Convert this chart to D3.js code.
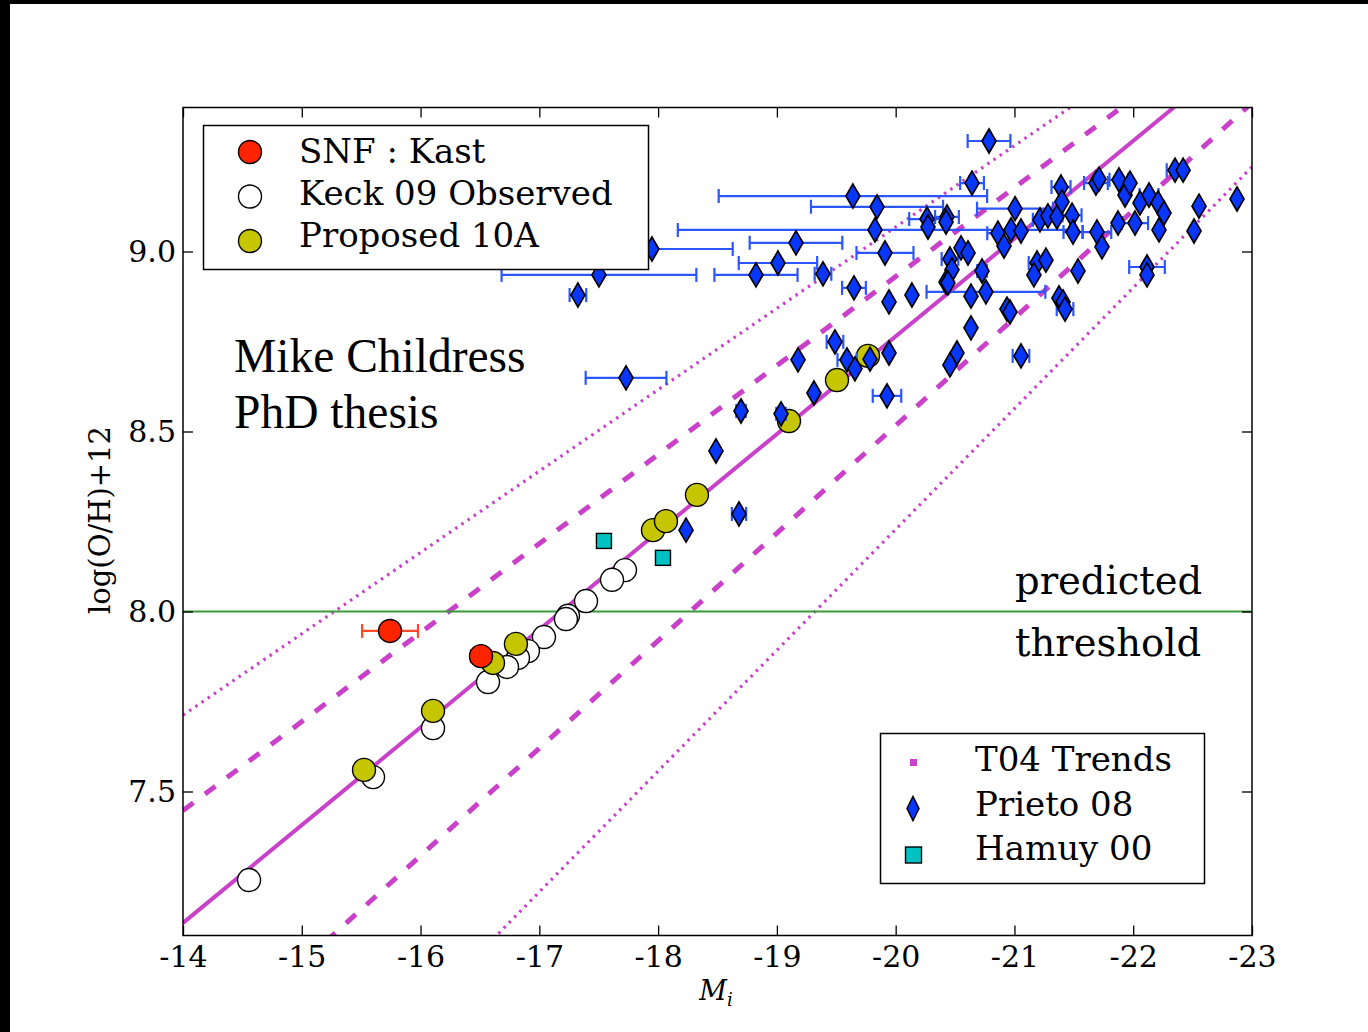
<!DOCTYPE html>
<html>
<head>
<meta charset="utf-8">
<script src="https://cdnjs.cloudflare.com/ajax/libs/d3/7.8.5/d3.min.js"></script>
<style>
  body { margin: 0; background: #fff; }
  svg text { font-family: "DejaVu Serif", serif; fill: #000; }
</style>
</head>
<body>
<div class="chart"></div>
<script>
// ---- data ----
var xTicks = [-14, -15, -16, -17, -18, -19, -20, -21, -22, -23];
var yTicks = [7.5, 8.0, 8.5, 9.0];

// T04 trend lines, value of log(O/H)+12 at M=-14 and at M=-23
var trendNames = ["+2sig", "+1sig", "T04", "-1sig", "-2sig"];
var trendAtFaint = [7.712, 7.447, 7.135, 6.724, 6.214];
var trendAtBright = [9.746, 9.672, 9.579, 9.413, 9.235];

var snfM = [-15.743, -16.509];
var snfOH = [7.946, 7.876];
var snfErr = [0.235, 0.085];

var keckM = [-17.721, -17.612, -17.393, -17.241, -17.224, -17.039, -16.904, -16.820, -16.728, -16.568, -16.105, -15.600, -14.556];
var keckOH = [8.115, 8.088, 8.029, 7.988, 7.979, 7.929, 7.890, 7.871, 7.846, 7.804, 7.676, 7.540, 7.254];

var p10aM = [-15.524, -16.105, -16.610, -16.803, -17.957, -18.066, -18.327, -19.102, -19.506, -19.767];
var p10aOH = [7.560, 7.724, 7.857, 7.910, 8.226, 8.251, 8.324, 8.529, 8.643, 8.710];

var hamuyM = [-17.544, -18.041];
var hamuyOH = [8.196, 8.149];

var prietoM = [-19.640, -19.843, -19.826, -19.161, -17.948, -19.009, -17.502, -18.824, -19.388, -17.325,
  -19.649, -19.944, -19.910, -17.730, -20.786, -20.643, -21.005, -20.264, -20.272, -20.432,
  -20.424, -20.861, -20.912, -20.971, -21.055, -21.215, -21.282, -21.358, -21.392, -21.400,
  -21.485, -21.493, -21.695, -21.737, -21.686, -21.712, -21.880, -21.931, -21.973, -21.872,
  -22.015, -22.057, -22.133, -22.209, -22.259, -22.217, -22.352, -22.420, -22.554, -22.874,
  -22.512, -20.550, -20.609, -20.457, -20.474, -20.424, -20.727, -20.760, -20.634, -20.634,
  -20.516, -20.457, -21.055, -21.190, -21.265, -21.164, -21.535, -22.116, -22.116, -21.375,
  -21.409, -21.426, -20.937, -20.962, -20.137, -20.440, -19.489, -19.590, -19.657, -19.784,
  -19.944, -19.178, -19.312, -19.927, -18.698, -19.035, -18.487, -18.681, -18.235];
var prietoOH = [9.154, 9.124, 9.060, 9.024, 9.007, 8.968, 8.935, 8.935, 8.938, 8.879,
  8.899, 8.860, 8.996, 8.649, 9.307, 9.190, 9.119, 9.090, 9.068, 9.096,
  9.082, 9.051, 9.015, 9.060, 9.057, 9.088, 9.099, 9.096, 9.179, 9.138,
  9.101, 9.054, 9.054, 9.013, 9.190, 9.201, 9.199, 9.157, 9.190, 9.079,
  9.079, 9.135, 9.157, 9.135, 9.107, 9.060, 9.226, 9.226, 9.126, 9.146,
  9.057, 9.010, 8.996, 8.979, 8.949, 8.915, 8.946, 8.888, 8.876, 8.788,
  8.718, 8.685, 8.710, 8.968, 8.976, 8.935, 8.946, 8.957, 8.935, 8.871,
  8.860, 8.840, 8.840, 8.832, 8.879, 8.913, 8.749, 8.699, 8.674, 8.701,
  8.718, 8.699, 8.607, 8.599, 8.557, 8.549, 8.446, 8.271, 8.226];
var prietoErr = [1.13, 0.556, 1.66, 0.39, 0.68, 0.33, 0.82, 0.35, 0.07, 0.07,
  0.10, 0, 0.24, 0.34, 0.18, 0.10, 0.32, 0.15, 0, 0.10,
  0, 0.09, 0, 0, 0, 0.06, 0, 0, 0.08, 0,
  0.08, 0.08, 0.12, 0, 0.10, 0, 0.08, 0, 0, 0,
  0.11, 0, 0.08, 0, 0, 0, 0.07, 0, 0, 0,
  0, 0, 0, 0.07, 0, 0, 0.04, 0.50, 0, 0,
  0, 0, 0.07, 0.07, 0, 0, 0, 0.15, 0, 0,
  0, 0.07, 0, 0, 0, 0, 0.07, 0.08, 0, 0,
  0, 0, 0, 0.12, 0.04, 0.04, 0, 0.06, 0];

var legendTop = ["SNF : Kast", "Keck 09 Observed", "Proposed 10A"];
var legendBottom = ["T04 Trends", "Prieto 08", "Hamuy 00"];

// ---- layout ----
var svgWidth = 1368, svgHeight = 1032;
var plotLeft = 183, plotRight = 1252, plotTop = 107.5, plotBottom = 935.5;

var svg = d3.select(".chart").append("svg")
  .attr("width", svgWidth)
  .attr("height", svgHeight);

svg.append("rect").attr("width", svgWidth).attr("height", svgHeight).attr("fill", "#fff");
// black strips at the image edge
svg.append("rect").attr("x", 0).attr("y", 0).attr("width", svgWidth).attr("height", 4).attr("fill", "#000");
svg.append("rect").attr("x", 0).attr("y", 0).attr("width", 10).attr("height", svgHeight).attr("fill", "#000");

var xScale = d3.scaleLinear().domain([-14, -23]).range([plotLeft, plotRight]);
var yScale = d3.scaleLinear().domain([7.1, 9.4]).range([plotBottom, plotTop]);

svg.append("clipPath").attr("id", "plotclip")
  .append("rect")
  .attr("x", plotLeft).attr("y", plotTop)
  .attr("width", plotRight - plotLeft).attr("height", plotBottom - plotTop);

var plot = svg.append("g").attr("clip-path", "url(#plotclip)");

// trend lines
var magenta = "#c940c9";
trendNames.forEach(function(name, i) {
  var path = plot.append("line")
    .attr("x1", xScale(-14)).attr("y1", yScale(trendAtFaint[i]))
    .attr("x2", xScale(-23)).attr("y2", yScale(trendAtBright[i]))
    .attr("stroke", magenta);
  if (name === "T04") {
    path.attr("stroke-width", 4);
  } else if (name.indexOf("1sig") >= 0) {
    path.attr("stroke-width", 5).attr("stroke-dasharray", "13,14.5");
  } else {
    path.attr("stroke-width", 3.2).attr("stroke-dasharray", "2.5,5");
  }
});

// predicted threshold
plot.append("line")
  .attr("x1", plotLeft).attr("x2", plotRight)
  .attr("y1", yScale(8.0)).attr("y2", yScale(8.0))
  .attr("stroke", "#3a9a3a").attr("stroke-width", 1.8);

// Keck 09 observed
plot.selectAll("circle.keck")
  .data(keckM)
  .enter()
  .append("circle")
  .attr("class", "keck")
  .attr("cx", d => xScale(d))
  .attr("cy", (d, i) => yScale(keckOH[i]))
  .attr("r", 11.5)
  .attr("fill", "#fff")
  .attr("stroke", "#000")
  .attr("stroke-width", 1.4);

// Proposed 10A
plot.selectAll("circle.p10a")
  .data(p10aM)
  .enter()
  .append("circle")
  .attr("class", "p10a")
  .attr("cx", d => xScale(d))
  .attr("cy", (d, i) => yScale(p10aOH[i]))
  .attr("r", 11.5)
  .attr("fill", "#c5c500")
  .attr("stroke", "#000")
  .attr("stroke-width", 1.4);

// horizontal error bar with end caps
function errBar(g, m, v, e, color, width) {
  var x0 = xScale(m + e), x1 = xScale(m - e), yy = yScale(v);
  g.append("line").attr("x1", x0).attr("x2", x1).attr("y1", yy).attr("y2", yy)
    .attr("stroke", color).attr("stroke-width", width);
  [x0, x1].forEach(function(xx) {
    g.append("line").attr("x1", xx).attr("x2", xx).attr("y1", yy - 7).attr("y2", yy + 7)
      .attr("stroke", color).attr("stroke-width", width);
  });
}

// SNF : Kast
snfM.forEach(function(m, i) { errBar(plot, m, snfOH[i], snfErr[i], "#ff4a26", 2.2); });
plot.selectAll("circle.snf")
  .data(snfM)
  .enter()
  .append("circle")
  .attr("class", "snf")
  .attr("cx", d => xScale(d))
  .attr("cy", (d, i) => yScale(snfOH[i]))
  .attr("r", 11.5)
  .attr("fill", "#ff2400")
  .attr("stroke", "#000")
  .attr("stroke-width", 1.4);

// Prieto 08
prietoM.forEach(function(m, i) {
  if (prietoErr[i] > 0) errBar(plot, m, prietoOH[i], prietoErr[i], "#2a55ff", 2.2);
});
var diamond = "M0,-12L7,0L0,12L-7,0Z";
plot.selectAll("path.prieto")
  .data(prietoM)
  .enter()
  .append("path")
  .attr("class", "prieto")
  .attr("d", diamond)
  .attr("transform", (d, i) => `translate(${xScale(d)},${yScale(prietoOH[i])})`)
  .attr("fill", "#0836fb")
  .attr("stroke", "#000")
  .attr("stroke-width", 1.7);

// Hamuy 00
plot.selectAll("rect.hamuy")
  .data(hamuyM)
  .enter()
  .append("rect")
  .attr("class", "hamuy")
  .attr("x", d => xScale(d) - 7.5)
  .attr("y", (d, i) => yScale(hamuyOH[i]) - 7.5)
  .attr("width", 15).attr("height", 15)
  .attr("fill", "#00c2c2")
  .attr("stroke", "#000")
  .attr("stroke-width", 1.4);

// ---- axes ----
var xAxis = d3.axisBottom(xScale).tickValues(xTicks).tickSize(-10).tickPadding(10)
  .tickFormat(d => String(d));
var yAxis = d3.axisLeft(yScale).tickValues(yTicks).tickSize(-10).tickPadding(7)
  .tickFormat(d3.format(".1f"));

function styleAxis(g) {
  g.attr("font-family", "DejaVu Serif").attr("font-size", 30);
  g.select(".domain").remove();
  g.selectAll("line").attr("stroke", "#000").attr("stroke-width", 1.3);
}

svg.append("g").attr("transform", `translate(0,${plotBottom})`).call(xAxis).call(styleAxis);
svg.append("g").attr("transform", `translate(${plotLeft},0)`).call(yAxis).call(styleAxis);
svg.append("g").attr("transform", `translate(0,${plotTop})`)
  .call(d3.axisTop(xScale).tickValues(xTicks).tickSize(-10).tickFormat("")).call(styleAxis);
svg.append("g").attr("transform", `translate(${plotRight},0)`)
  .call(d3.axisRight(yScale).tickValues(yTicks).tickSize(-10).tickFormat("")).call(styleAxis);

svg.append("rect")
  .attr("x", plotLeft).attr("y", plotTop)
  .attr("width", plotRight - plotLeft).attr("height", plotBottom - plotTop)
  .attr("fill", "none").attr("stroke", "#000").attr("stroke-width", 1.5);

// axis labels
svg.append("text")
  .attr("transform", "translate(110,520) rotate(-90)")
  .attr("text-anchor", "middle")
  .style("font-size", "29px")
  .text("log(O/H)+12");

var xl = svg.append("text")
  .attr("x", 716).attr("y", 1000)
  .attr("text-anchor", "middle")
  .style("font-size", "27px")
  .style("font-style", "italic");
xl.append("tspan").text("M");
xl.append("tspan").attr("dy", 6).style("font-size", "18px").text("i");

// ---- annotations ----
svg.append("text").attr("x", 234).attr("y", 372)
  .style("font-family", "'Liberation Serif', serif").style("font-size", "47.5px")
  .text("Mike Childress");
svg.append("text").attr("x", 234).attr("y", 428)
  .style("font-family", "'Liberation Serif', serif").style("font-size", "47.5px")
  .text("PhD thesis");

svg.append("text").attr("x", 1015).attr("y", 594).style("font-size", "38.5px").text("predicted");
svg.append("text").attr("x", 1015).attr("y", 656).style("font-size", "38.5px").text("threshold");

// ---- legends ----
var leg1 = svg.append("g");
leg1.append("rect").attr("x", 203.5).attr("y", 125.5).attr("width", 445).attr("height", 144)
  .attr("fill", "#fff").attr("stroke", "#000").attr("stroke-width", 1.5);
var leg1Fill = ["#ff2400", "#fff", "#c5c500"];
legendTop.forEach(function(label, i) {
  leg1.append("circle").attr("cx", 250).attr("cy", 152 + i * 44.5).attr("r", 11.5)
    .attr("fill", leg1Fill[i]).attr("stroke", "#000").attr("stroke-width", 1.4);
  leg1.append("text").attr("x", 299).attr("y", 163 + i * 42).style("font-size", "34px").text(label);
});

var leg2 = svg.append("g");
leg2.append("rect").attr("x", 880.5).attr("y", 733.5).attr("width", 324).attr("height", 150)
  .attr("fill", "#fff").attr("stroke", "#000").attr("stroke-width", 1.5);
legendBottom.forEach(function(label, i) {
  var cy = 762 + i * 46.5;
  if (i === 0) {
    leg2.append("rect").attr("x", 910).attr("y", cy - 3).attr("width", 7).attr("height", 7)
      .attr("fill", magenta);
  } else if (i === 1) {
    leg2.append("path").attr("d", "M0,-12L6,0L0,12L-6,0Z")
      .attr("transform", `translate(913,${cy})`)
      .attr("fill", "#0836fb").attr("stroke", "#000").attr("stroke-width", 1.5);
  } else {
    leg2.append("rect").attr("x", 905.5).attr("y", cy - 8).attr("width", 16).attr("height", 16)
      .attr("fill", "#00c2c2").attr("stroke", "#000").attr("stroke-width", 1.4);
  }
  leg2.append("text").attr("x", 975).attr("y", 771 + i * 44.5).style("font-size", "34px").text(label);
});
</script>
</body>
</html>
